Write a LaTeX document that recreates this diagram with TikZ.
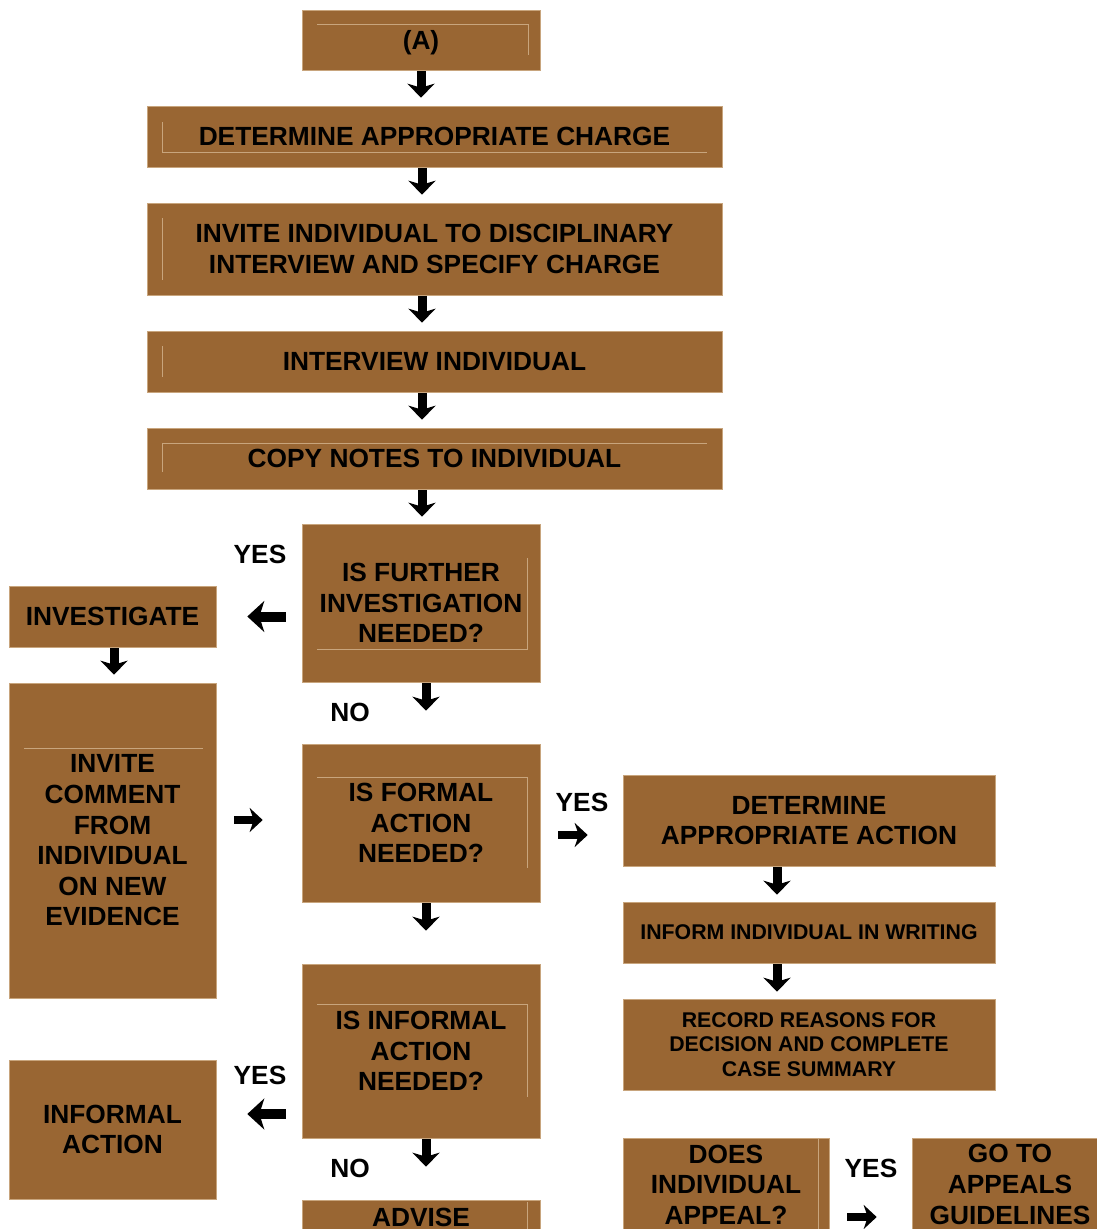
\documentclass[tikz,border=0pt]{standalone}
\usepackage{fontspec}
\setmainfont{Liberation Sans}
\usetikzlibrary{arrows.meta}
\definecolor{boxBrown}{RGB}{153,102,51}
\definecolor{frameTan}{RGB}{200,165,125}

\begin{document}
\begin{tikzpicture}[x = 1pt, y = -1pt]
	\tikzstyle{boxStyle} = [shape = rectangle, fill = boxBrown, draw = frameTan, line width = 0.6pt, inner sep = 0pt, align = center, font = \bfseries\fontsize{26.3}{30.6}\selectfont]
	\tikzstyle{smallBoxStyle} = [boxStyle, font = \bfseries\fontsize{21.3}{24.2}\selectfont]
	\tikzstyle{answerStyle} = [inner sep = 0pt, font = \bfseries\fontsize{26.3}{30.6}\selectfont]
	\tikzstyle{frameStyle} = [draw = frameTan, line width = 0.7pt]
	\tikzstyle{arrowStyle} = [line width = 9pt, -{Stealth[length = 14pt, width = 27pt, inset = 4pt]}]
	\tikzstyle{bigArrowStyle} = [line width = 10pt, -{Stealth[length = 17pt, width = 31pt, inset = 5pt]}]
	\tikzstyle{smallArrowStyle} = [line width = 8pt, -{Stealth[length = 13pt, width = 24pt, inset = 4pt]}]
	\useasboundingbox (0, 0) rectangle (1097, 1229);
	\clip (0, 0) rectangle (1097, 1229);
	\node[boxStyle, minimum width = 238pt, minimum height = 60pt, text depth = 0pt] (v0) at (421, 40) {(A)};
	\node[boxStyle, minimum width = 575pt, minimum height = 61pt] (v1) at (434.5, 136.5) {DETERMINE APPROPRIATE CHARGE};
	\node[boxStyle, minimum width = 575pt, minimum height = 92pt] (v2) at (434.5, 249) {INVITE INDIVIDUAL TO DISCIPLINARY\\INTERVIEW AND SPECIFY CHARGE};
	\node[boxStyle, minimum width = 575pt, minimum height = 61pt] (v3) at (434.5, 361.5) {INTERVIEW INDIVIDUAL};
	\node[boxStyle, minimum width = 575pt, minimum height = 61pt] (v4) at (434.5, 458.5) {COPY NOTES TO INDIVIDUAL};
	\node[boxStyle, minimum width = 238pt, minimum height = 158pt] (v5) at (421, 603) {IS FURTHER\\INVESTIGATION\\NEEDED?};
	\node[boxStyle, minimum width = 207pt, minimum height = 61pt] (v6) at (112.5, 616.5) {INVESTIGATE};
	\node[boxStyle, minimum width = 207pt, minimum height = 315pt] (v7) at (112.5, 840.5) {INVITE\\COMMENT\\FROM\\INDIVIDUAL\\ON NEW\\EVIDENCE};
	\node[boxStyle, minimum width = 238pt, minimum height = 158pt] (v8) at (421, 823) {IS FORMAL\\ACTION\\NEEDED?};
	\node[boxStyle, minimum width = 372pt, minimum height = 91pt] (v9) at (809, 820.5) {DETERMINE\\APPROPRIATE ACTION};
	\node[smallBoxStyle, minimum width = 372pt, minimum height = 61pt] (v10) at (809, 932.5) {INFORM INDIVIDUAL IN WRITING};
	\node[smallBoxStyle, minimum width = 372pt, minimum height = 91pt] (v11) at (809, 1044.5) {RECORD REASONS FOR\\DECISION AND COMPLETE\\CASE SUMMARY};
	\node[boxStyle, minimum width = 238pt, minimum height = 174pt] (v12) at (421, 1051) {IS INFORMAL\\ACTION\\NEEDED?};
	\node[boxStyle, minimum width = 207pt, minimum height = 139pt] (v13) at (112.5, 1129.5) {INFORMAL\\ACTION};
	\node[boxStyle, minimum width = 238pt, minimum height = 34pt] (v14) at (421, 1217) {ADVISE};
	\node[boxStyle, minimum width = 206pt, minimum height = 93pt] (v15) at (726, 1184.5) {DOES\\INDIVIDUAL\\APPEAL?};
	\node[boxStyle, minimum width = 196pt, minimum height = 93pt] (v16) at (1010, 1184.5) {GO TO\\APPEALS\\GUIDELINES};
	\node[answerStyle] (l0) at (260, 554.5) {YES};
	\node[answerStyle] (l1) at (350, 712.5) {NO};
	\node[answerStyle] (l2) at (582, 802.5) {YES};
	\node[answerStyle] (l3) at (260, 1075.5) {YES};
	\node[answerStyle] (l4) at (350, 1168.5) {NO};
	\node[answerStyle] (l5) at (871, 1168.5) {YES};
	\draw[frameStyle] (317, 24) -- (528, 24) -- (528, 55);
	\draw[frameStyle] (162, 122) -- (162, 152) -- (707, 152);
	\draw[frameStyle] (162, 218) -- (162, 280);
	\draw[frameStyle] (162, 346) -- (162, 377);
	\draw[frameStyle] (162, 472) -- (162, 443) -- (707, 443);
	\draw[frameStyle] (527, 558) -- (527, 649) -- (317, 649);
	\draw[frameStyle] (24, 748) -- (203, 748);
	\draw[frameStyle] (317, 777) -- (527, 777) -- (527, 868);
	\draw[frameStyle] (317, 1004) -- (527, 1004) -- (527, 1097);
	\draw[frameStyle] (527, 1202) -- (527, 1229);
	\draw[frameStyle] (818, 1139) -- (818, 1229);
	\draw[arrowStyle, shorten < = 1pt, shorten > = 8pt] (v0.south) -- (v0.south |- v1.north);
	\draw[arrowStyle, shorten < = 1pt, shorten > = 8pt] ([xshift = -12.5pt]v1.south) -- ([xshift = -12.5pt]v1.south |- v2.north);
	\draw[arrowStyle, shorten < = 1pt, shorten > = 8pt] ([xshift = -12.5pt]v2.south) -- ([xshift = -12.5pt]v2.south |- v3.north);
	\draw[arrowStyle, shorten < = 1pt, shorten > = 8pt] ([xshift = -12.5pt]v3.south) -- ([xshift = -12.5pt]v3.south |- v4.north);
	\draw[arrowStyle, shorten < = 1pt, shorten > = 7pt] ([xshift = -12.5pt]v4.south) -- ([xshift = -12.5pt]v4.south |- v5.north);
	\draw[arrowStyle, shorten < = 1pt, shorten > = 33pt] ([xshift = 5pt]v5.south) -- ([xshift = 5pt]v5.south |- v8.north);
	\draw[arrowStyle, shorten < = 1pt, shorten > = 33pt] ([xshift = 5pt]v8.south) -- ([xshift = 5pt]v8.south |- v12.north);
	\draw[arrowStyle, shorten < = 1pt, shorten > = 33pt] ([xshift = 5pt]v12.south) -- ([xshift = 5pt]v12.south |- v14.north);
	\draw[arrowStyle, shorten < = 1pt, shorten > = 8pt] ([xshift = 1.5pt]v6.south) -- ([xshift = 1.5pt]v6.south |- v7.north);
	\draw[arrowStyle, shorten < = 1pt, shorten > = 7pt] ([xshift = -32pt]v9.south) -- ([xshift = -32pt]v9.south |- v10.north);
	\draw[arrowStyle, shorten < = 1pt, shorten > = 7pt] ([xshift = -32pt]v10.south) -- ([xshift = -32pt]v10.south |- v11.north);
	\draw[bigArrowStyle, shorten < = 16pt, shorten > = 31pt] (v5.west |- v6.east) -- (v6.east);
	\draw[bigArrowStyle, shorten < = 16pt, shorten > = 31pt] ([yshift = -63pt]v12.west) -- ([yshift = -63pt]v12.west -| v13.east);
	\draw[smallArrowStyle, shorten < = 18pt, shorten > = 39pt] ([yshift = 3pt]v7.east |- v8.west) -- ([yshift = 3pt]v8.west);
	\draw[smallArrowStyle, shorten < = 18pt, shorten > = 35pt] ([yshift = -12pt]v8.east) -- ([yshift = -12pt]v8.east -| v9.west);
	\draw[smallArrowStyle, shorten < = 18pt, shorten > = 35pt] ([yshift = -32.5pt]v15.east) -- ([yshift = -32.5pt]v15.east -| v16.west);
\end{tikzpicture}
\end{document}
